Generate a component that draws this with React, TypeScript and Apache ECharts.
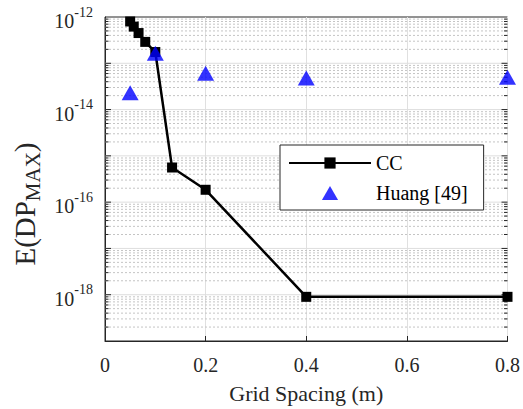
import React, { useEffect, useRef } from "react";
import * as echarts from "echarts";

const ccX = [0.05, 0.0571, 0.0667, 0.08, 0.1, 0.1333, 0.2, 0.4, 0.8];
const ccY = [8e-13, 6.2e-13, 4.5e-13, 2.9e-13, 1.75e-13, 5.6e-16, 1.85e-16, 9e-19, 9e-19];
const huangX = [0.05, 0.1, 0.2, 0.4, 0.8];
const huangY = [2.3e-14, 1.65e-13, 6.1e-14, 4.8e-14, 5e-14];
const xTicks = [0, 0.2, 0.4, 0.6, 0.8];
const xMin = 0;
const xMax = 0.8;
const yMinExp = -19;
const yMaxExp = -12;

const FONT = "Liberation Serif";
const TXT = "#262626";

export default function App() {
  const ref = useRef<HTMLDivElement>(null);
  useEffect(() => {
    if (!ref.current) return;
    const chart = echarts.init(ref.current, undefined, { renderer: "svg" });
    // [value, isMajor]
    const gridVals: number[][] = [];
    for (let e = yMinExp; e < yMaxExp; e++) {
      for (let k = 2; k <= 9; k++) gridVals.push([k * Math.pow(10, e), 0]);
    }
    for (let e = yMinExp + 1; e < yMaxExp; e++) gridVals.push([Math.pow(10, e), 1]);

    chart.setOption({
      animation: false,
      backgroundColor: "#ffffff",
      textStyle: { fontFamily: FONT },
      grid: {
        left: 105,
        right: 11,
        top: 17,
        bottom: 66,
        show: true,
        borderColor: TXT,
        borderWidth: 1,
      },
      graphic: [
        {
          type: "text",
          x: 25,
          y: 204,
          rotation: Math.PI / 2,
          style: {
            text: "E(DP{sub|MAX})",
            fontFamily: FONT,
            fontSize: 29,
            fill: TXT,
            align: "center",
            verticalAlign: "middle",
            rich: {
              sub: { fontFamily: FONT, fontSize: 21, fill: TXT, padding: [15, 0, 0, 0] },
            },
          },
        },
      ],
      legend: {
        left: 280,
        top: 145,
        orient: "vertical",
        backgroundColor: "#ffffff",
        borderColor: TXT,
        borderWidth: 1,
        borderRadius: 0,
        padding: [8, 16, 7, 8],
        itemGap: 10,
        itemWidth: 82,
        itemHeight: 14,
        symbolKeepAspect: true,
        textStyle: { fontFamily: FONT, fontSize: 20, color: "#000" },
        data: [
          { name: "CC" },
          { name: "Huang [49]", icon: "path://M0,13 L7.5,0 L15,13 Z" },
        ],
      },
      xAxis: {
        type: "value",
        min: xMin,
        max: xMax,
        interval: 0.2,
        axisLine: { show: true, lineStyle: { color: TXT, width: 1 } },
        axisTick: { show: true, inside: true, length: 5, lineStyle: { color: TXT } },
        axisLabel: {
          fontFamily: FONT,
          fontSize: 20,
          color: TXT,
          margin: 14,
          formatter: (v: number) => {
            const t = xTicks.find((x) => Math.abs(x - v) < 1e-9);
            return t === undefined ? "" : String(t);
          },
        },
        splitLine: { show: true, lineStyle: { color: "#e0e0e0", width: 1 } },
        name: "Grid Spacing (m)",
        nameLocation: "middle",
        nameGap: 41,
        nameTextStyle: { fontFamily: FONT, fontSize: 22, color: TXT },
      },
      yAxis: {
        type: "log",
        logBase: 10,
        min: Math.pow(10, yMinExp),
        max: Math.pow(10, yMaxExp),
        axisLine: { show: true, lineStyle: { color: TXT, width: 1 } },
        axisTick: { show: false },
        axisLabel: {
          fontFamily: FONT,
          fontSize: 20,
          color: TXT,
          margin: 12,
          formatter: (v: number) => {
            const e = Math.round(Math.log10(v));
            return e % 2 === 0 ? `{b|10}{sup|${e}}` : "";
          },
          rich: {
            b: { fontFamily: FONT, fontSize: 20, color: TXT, padding: [8, 0, 0, 0] },
            sup: { fontFamily: FONT, fontSize: 14, color: TXT, padding: [0, 0, 10, 0] },
          },
        },
        splitLine: { show: false },
      },
      series: [
        {
          name: "grid",
          type: "custom",
          silent: true,
          z: 1,
          data: gridVals.map((g) => [xMin, g[0], g[1]]),
          encode: { x: 0, y: 1 },
          renderItem: (params: any, api: any) => {
            const v = api.value(1);
            const major = api.value(2) === 1;
            const a = api.coord([xMin, v]);
            const b = api.coord([xMax, v]);
            const tl = major ? 6 : 3.5;
            return {
              type: "group",
              children: [
                {
                  type: "line",
                  shape: { x1: a[0], y1: a[1], x2: b[0], y2: b[1] },
                  style: major
                    ? { stroke: "#dedede", lineWidth: 1 }
                    : { stroke: "#c4c4c4", lineWidth: 1, lineDash: [2, 2] },
                },
                {
                  type: "line",
                  shape: { x1: a[0], y1: a[1], x2: a[0] + tl, y2: a[1] },
                  style: { stroke: TXT, lineWidth: 1 },
                },
                {
                  type: "line",
                  shape: { x1: b[0], y1: b[1], x2: b[0] - tl, y2: b[1] },
                  style: { stroke: TXT, lineWidth: 1 },
                },
              ],
            };
          },
        },
        {
          name: "CC",
          type: "line",
          data: ccX.map((x, i) => [x, ccY[i]]),
          symbol: "rect",
          symbolSize: 10,
          itemStyle: { color: "#000000" },
          lineStyle: { color: "#000000", width: 2.5 },
          z: 5,
        },
        {
          name: "Huang [49]",
          type: "scatter",
          data: huangX.map((x, i) => [x, huangY[i]]),
          symbol: "triangle",
          symbolSize: [17, 15],
          itemStyle: { color: "#0000ff" },
          z: 6,
        },
      ],
    });
    return () => chart.dispose();
  }, []);
  return <div ref={ref} style={{ width: 523, height: 409, position: "absolute", left: 0, top: 0 }} />;
}
